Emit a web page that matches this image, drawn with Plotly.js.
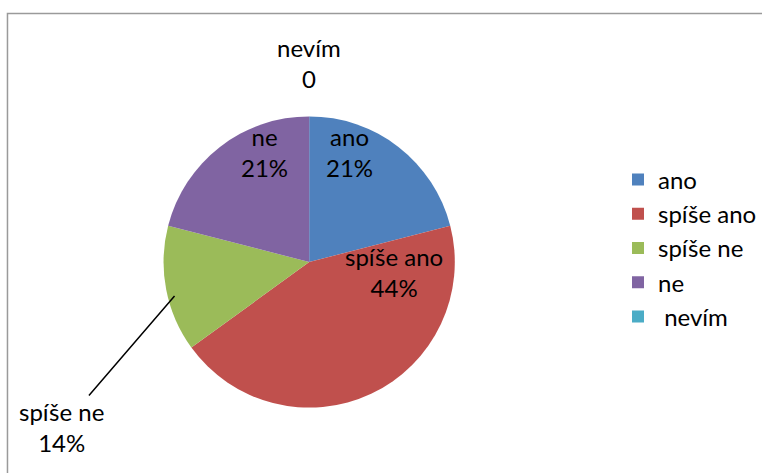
<!DOCTYPE html>
<html>
<head>
<meta charset="utf-8">
<script src="https://cdn.plot.ly/plotly-3.0.1.min.js"></script>
<style>html,body{margin:0;padding:0;background:#fff;}#chart{width:762px;height:473px;}</style>
</head>
<body>
<div id="chart"></div>
<script>
const categories = ['ano', 'spíše ano', 'spíše ne', 'ne', 'nevím'];
const legendNames = ['ano', 'spíše ano', 'spíše ne', 'ne', ' nevím'];
const values = [21, 44, 14, 21, 0];
const valueLabels = ['21%', '44%', '14%', '21%', '0'];
const colors = ['#4F81BD', '#C0504D', '#9BBB59', '#8064A2', '#4BACC6'];

const W = 762, H = 473;
const px = x => x / W;
const py = y => 1 - y / H;

const FONT = 'Lato, "Open Sans", sans-serif';
const FS = 24;

const trace = {
  type: 'pie',
  labels: legendNames,
  values: values,
  marker: { colors: colors, line: { width: 0 } },
  sort: false,
  direction: 'clockwise',
  rotation: 0,
  textinfo: 'none',
  hoverinfo: 'label+value+percent',
  domain: { x: [px(164), px(456)], y: [py(408), py(116)] },
  showlegend: true
};

// label centre positions (pixels) for each category
const labelPos = [[350, 152], [395, 272], [62, 427], [265, 152], [310, 63]];

const annotations = categories.map((c, i) => {
  const a = {
    xref: 'paper', yref: 'paper',
    xanchor: 'center', yanchor: 'middle',
    text: c + '<br>' + valueLabels[i],
    showarrow: false,
    font: { family: FONT, size: FS, color: '#000' }, align: 'center'
  };
  if (i === 2) {
    a.showarrow = true;
    a.arrowhead = 0; a.arrowwidth = 1.5; a.arrowcolor = '#000';
    a.x = px(175); a.y = py(296);
    a.axref = 'paper'; a.ayref = 'paper';
    a.ax = px(labelPos[i][0]); a.ay = py(labelPos[i][1]);
    a.standoff = 0; a.startstandoff = 0;
  } else {
    a.x = px(labelPos[i][0]); a.y = py(labelPos[i][1]);
  }
  return a;
});

const layout = {
  width: W, height: H,
  margin: { l: 0, r: 0, t: 0, b: 0 },
  paper_bgcolor: '#fff',
  font: { family: FONT, size: FS, color: '#000' },
  legend: {
    x: px(620), y: py(248), yanchor: 'middle', xanchor: 'left',
    font: { family: FONT, size: 24, color: '#000' },
    itemwidth: 30, bgcolor: 'rgba(0,0,0,0)'
  },
  shapes: [{
    type: 'rect', xref: 'paper', yref: 'paper',
    x0: px(7.5), x1: px(800), y0: py(13.5), y1: py(520),
    line: { color: '#9a9a9a', width: 1.5 }, fillcolor: 'rgba(0,0,0,0)', layer: 'below'
  }],
  annotations: annotations
};

Plotly.newPlot('chart', [trace], layout, { displayModeBar: false, staticPlot: true });
</script>
</body>
</html>
